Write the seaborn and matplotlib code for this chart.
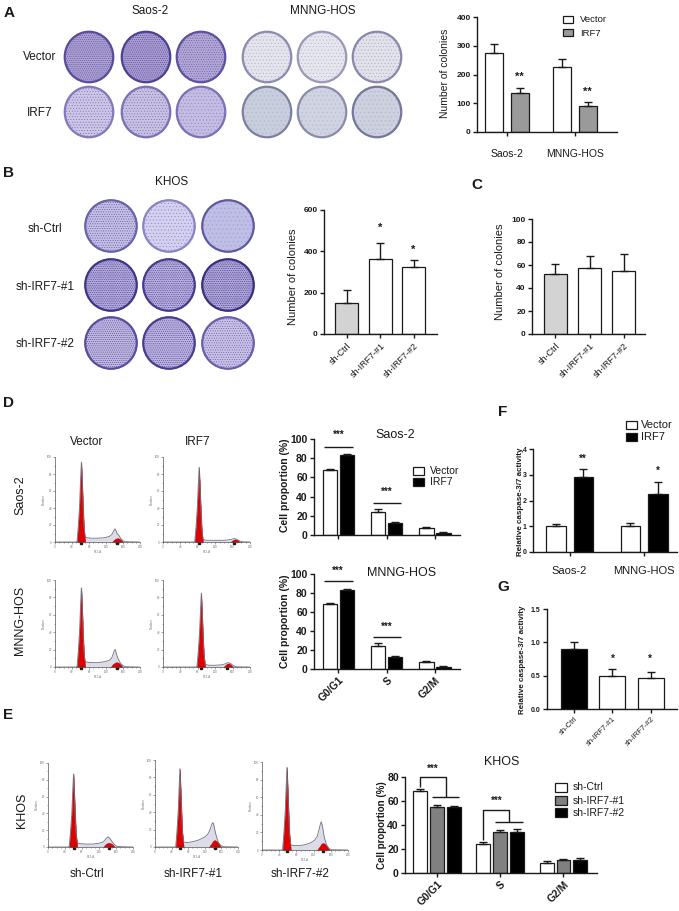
import numpy as np
import pandas as pd
import matplotlib
matplotlib.use('Agg')
import matplotlib.pyplot as plt
import seaborn as sns
from matplotlib.patches import Ellipse, Rectangle

# ---------------- DATA ----------------
# Panel A colony counts
a_groups = ['Saos-2', 'MNNG-HOS']
a_vector = [275, 225]
a_vector_err = [32, 30]
a_irf7 = [135, 90]
a_irf7_err = [19, 15]

# Panel B (KHOS colonies)
b_cats = ['sh-Ctrl', 'sh-IRF7-#1', 'sh-IRF7-#2']
b_vals = [148, 365, 325]
b_err = [67, 77, 32]

# Panel C
c_cats = ['sh-Ctrl', 'sh-IRF7-#1', 'sh-IRF7-#2']
c_vals = [52.5, 57.5, 55]
c_err = [8.8, 10.7, 15]

# Panel D cell cycle
phases = ['G0/G1', 'S', 'G2/M']
d_saos_vector = [68, 24, 7]
d_saos_vector_err = [1.0, 3.0, 1.5]
d_saos_irf7 = [83.5, 13, 2.5]
d_saos_irf7_err = [0.7, 1.0, 0.5]
d_mnng_vector = [68, 24.5, 7]
d_mnng_vector_err = [1.0, 3.0, 1.5]
d_mnng_irf7 = [83.5, 13, 2.5]
d_mnng_irf7_err = [0.7, 1.0, 0.5]

# Panel E (KHOS cell cycle)
e_ctrl = [68, 24, 8]
e_ctrl_err = [2.0, 1.5, 2.0]
e_sh1 = [55, 34, 11]
e_sh1_err = [1.5, 2.0, 0.5]
e_sh2 = [55, 34.5, 10.5]
e_sh2_err = [0.5, 2.0, 2.0]

# Panel F caspase
f_groups = ['Saos-2', 'MNNG-HOS']
f_vector = [1.0, 1.0]
f_vector_err = [0.10, 0.12]
f_irf7 = [2.9, 2.25]
f_irf7_err = [0.32, 0.47]

# Panel G caspase
g_cats = ['sh-Ctrl', 'sh-IRF7-#1', 'sh-IRF7-#2']
g_vals = [0.9, 0.49, 0.47]
g_err = [0.10, 0.11, 0.085]

# Flow cytometry histograms (channel, count)
sv_g1_x = [52, 55, 58, 60, 62, 64, 66, 68, 71]
sv_g1_y = [0, 20, 45, 72, 94, 70, 42, 18, 0]
sv_g2_x = [134, 139, 143, 147, 151, 155, 160]
sv_g2_y = [0, 2.5, 4, 4.5, 4, 2.5, 0]
sv_tot_x = [0, 50, 52, 55, 58, 60, 62, 64, 66, 68, 71, 76, 85, 100, 115, 128, 134, 138, 141, 143, 146, 150, 155, 160, 166, 200]
sv_tot_y = [0, 0, 1, 20, 45, 72, 94, 70, 42, 18, 6, 5, 4.5, 4.5, 5, 6.5, 9, 13, 15.5, 14, 10, 8, 4, 1.5, 0.3, 0]

si_g1_x = [73, 76, 79, 81, 83, 85, 87, 89, 92]
si_g1_y = [0, 18, 42, 66, 88, 64, 38, 16, 0]
si_g2_x = [155, 160, 164, 168, 172, 177]
si_g2_y = [0, 2, 3, 3, 2, 0]
si_tot_x = [0, 71, 73, 76, 79, 81, 83, 85, 87, 89, 92, 100, 120, 140, 150, 156, 160, 164, 168, 172, 177, 185, 200]
si_tot_y = [0, 0, 1, 18, 42, 66, 88, 64, 38, 16, 3, 2, 2, 2, 2.5, 3, 3.5, 4, 3.5, 2.5, 1, 0.2, 0]

mv_g1_x = [52, 55, 58, 60, 62, 64, 66, 68, 71]
mv_g1_y = [0, 19, 44, 70, 91, 68, 40, 17, 0]
mv_g2_x = [131, 136, 141, 145, 149, 154, 159]
mv_g2_y = [0, 3, 5, 5.5, 5, 3, 0]
mv_tot_x = [0, 50, 52, 55, 58, 60, 62, 64, 66, 68, 71, 76, 85, 100, 115, 127, 133, 137, 140, 142, 145, 149, 154, 160, 166, 200]
mv_tot_y = [0, 0, 1, 19, 44, 70, 91, 68, 40, 17, 6, 5.5, 5, 5, 6, 7.5, 10, 15, 19.5, 20, 14, 9, 4.5, 1.5, 0.3, 0]

mi_g1_x = [78, 81, 84, 86, 88, 90, 92, 94, 97]
mi_g1_y = [0, 17, 40, 63, 85, 61, 36, 15, 0]
mi_g2_x = [139, 144, 148, 152, 156, 161]
mi_g2_y = [0, 2.5, 4, 4, 2.5, 0]
mi_tot_x = [0, 76, 78, 81, 84, 86, 88, 90, 92, 94, 97, 105, 120, 135, 142, 146, 150, 154, 158, 163, 170, 200]
mi_tot_y = [0, 0, 1, 17, 40, 63, 85, 61, 36, 15, 3, 2, 2, 2.5, 3.5, 4.5, 5, 4.5, 3, 1.2, 0.2, 0]

ec_g1_x = [50, 53, 56, 58, 60, 62, 64, 66, 69]
ec_g1_y = [0, 18, 40, 65, 87, 63, 37, 16, 0]
ec_g2_x = [130, 135, 139, 143, 147, 152, 157]
ec_g2_y = [0, 3, 4.5, 5, 4.5, 3, 0]
ec_tot_x = [0, 48, 50, 53, 56, 58, 60, 62, 64, 66, 69, 75, 90, 105, 120, 130, 135, 139, 142, 146, 150, 156, 163, 200]
ec_tot_y = [0, 0, 1, 18, 40, 65, 87, 63, 37, 16, 5, 4, 3.5, 3.5, 4.5, 6, 9, 11.5, 12, 10, 7, 3, 0.5, 0]

e1_g1_x = [50, 53, 56, 58, 60, 62, 64, 66, 69]
e1_g1_y = [0, 19, 42, 67, 90, 65, 39, 17, 0]
e1_g2_x = [130, 136, 140, 144, 148, 153, 159]
e1_g2_y = [0, 4, 7, 8, 7, 4, 0]
e1_tot_x = [0, 48, 50, 53, 56, 58, 60, 62, 64, 66, 69, 75, 90, 105, 118, 126, 132, 136, 139, 141, 144, 148, 153, 159, 166, 200]
e1_tot_y = [0, 0, 1, 19, 42, 67, 90, 65, 39, 17, 6, 5, 6, 8, 11, 14, 19, 25, 28, 27, 20, 12, 5, 1.5, 0.3, 0]

e2_g1_x = [48, 51, 54, 56, 58, 60, 62, 64, 67]
e2_g1_y = [0, 20, 44, 70, 94, 68, 41, 18, 0]
e2_g2_x = [128, 134, 138, 142, 146, 151, 157]
e2_g2_y = [0, 4, 7, 8, 7, 4, 0]
e2_tot_x = [0, 46, 48, 51, 54, 56, 58, 60, 62, 64, 67, 73, 85, 100, 112, 122, 128, 132, 136, 138, 141, 145, 150, 156, 163, 200]
e2_tot_y = [0, 0, 1, 20, 44, 70, 94, 68, 41, 18, 6, 5, 5, 6, 8, 11, 15, 22, 30, 32, 26, 14, 6, 1.5, 0.3, 0]

# ---------------- SETUP ----------------
sns.set_theme(style='ticks')
plt.rcParams['font.family'] = ['Liberation Sans', 'DejaVu Sans']
plt.rcParams['hatch.linewidth'] = 0.35

W, H = 679, 911
fig = plt.figure(figsize=(W / 100, H / 100), dpi=100)
fig.patch.set_facecolor('white')


def AX(x0, y0, x1, y1):
    ax = fig.add_axes([x0 / W, 1 - y1 / H, (x1 - x0) / W, (y1 - y0) / H])
    ax.patch.set_alpha(0)
    return ax


ov = fig.add_axes([0, 0, 1, 1])
ov.set_xlim(0, W)
ov.set_ylim(H, 0)
ov.axis('off')
ov.set_zorder(10)
ov.patch.set_alpha(0)


def T(x, y, s, size=8, weight='normal', rot=0, ha='center', va='center', color='k'):
    ov.text(x, y, s, fontsize=size, fontweight=weight, rotation=rot, ha=ha, va=va, color=color)


def L(xs, ys, lw=1.0):
    ov.plot(xs, ys, color='k', lw=lw, solid_capstyle='butt')


def box(x, y, w, h, fc):
    ov.add_patch(Rectangle((x, y), w, h, facecolor=fc, edgecolor='k', lw=0.9))


def plate(cx, cy, face, speck, rim, hatch, w=50, h=52):
    ov.add_patch(Ellipse((cx, cy), w, h, facecolor=face, edgecolor='none', lw=0))
    ov.add_patch(Ellipse((cx, cy), w - 3, h - 3, facecolor='none', edgecolor=speck,
                         hatch=hatch, lw=0))
    ov.add_patch(Ellipse((cx, cy), w - 1.5, h - 1.5, facecolor='none', edgecolor=rim, lw=1.6))


def style(ax, ylim, yticks, tsize, bold=True):
    ax.set_ylim(*ylim)
    ax.set_yticks(yticks)
    sns.despine(ax=ax)
    for s in ['left', 'bottom']:
        ax.spines[s].set_linewidth(1.0)
        ax.spines[s].set_color('k')
    ax.tick_params(axis='both', direction='out', length=3, width=1.0, color='k',
                   labelsize=tsize, pad=1.5, labelcolor='k')
    for lab in ax.get_yticklabels():
        lab.set_fontweight('bold' if bold else 'normal')
    ax.set_xlabel('')
    ax.set_ylabel('')


def errs(ax, err_lists):
    for cont, ev in zip(ax.containers, err_lists):
        xs = [p.get_x() + p.get_width() / 2 for p in cont]
        ys = [p.get_height() for p in cont]
        ax.errorbar(xs, ys, yerr=[np.zeros(len(ev)), ev], fmt='none', ecolor='k',
                    elinewidth=1.0, capsize=3, capthick=1.0, zorder=3)


def hue_bars(ax, cats, levels, vals_list, colors, width, gap):
    df = pd.DataFrame({'cat': [c for _ in levels for c in cats],
                       'grp': [lv for lv in levels for _ in cats],
                       'val': [v for vals in vals_list for v in vals]})
    sns.barplot(data=df, x='cat', y='val', hue='grp', order=cats, hue_order=levels,
                palette=dict(zip(levels, colors)), width=width, gap=gap, edgecolor='k',
                linewidth=0.9, errorbar=None, legend=False, saturation=1, ax=ax)


def single_bars(ax, cats, vals, colors, width):
    df = pd.DataFrame({'cat': cats, 'val': vals})
    sns.barplot(data=df, x='cat', y='val', hue='cat', order=cats, hue_order=cats,
                palette=dict(zip(cats, colors)), width=width, edgecolor='k', linewidth=0.9,
                errorbar=None, legend=False, saturation=1, ax=ax)


def hist(ax, tx, ty, g1x, g1y, g2x, g2y):
    ax.fill_between(tx, ty, color='#dcdce8', lw=0)
    sns.lineplot(x=tx, y=ty, ax=ax, color='#70707e', lw=0.6, sort=False, estimator=None)
    ax.fill_between(g1x, g1y, facecolor='#e00000', edgecolor='#9a0000', lw=0.3)
    ax.fill_between(g2x, g2y, facecolor='#e00000', edgecolor='#9a0000', lw=0.3)
    c1 = g1x[int(np.argmax(g1y))]
    c2 = g2x[int(np.argmax(g2y))]
    ax.plot([c1, c2], [-1.5, -1.5], ls='none', marker='s', ms=1.6, color='k', clip_on=False)
    ax.set_xlim(0, 200)
    ax.set_ylim(0, 100)
    ax.set_xticks(np.arange(0, 201, 40))
    ax.set_xticks(np.arange(0, 201, 10), minor=True)
    ax.set_yticks(np.arange(0, 101, 20))
    ax.set_yticks(np.arange(0, 101, 10), minor=True)
    sns.despine(ax=ax)
    for s in ['left', 'bottom']:
        ax.spines[s].set_linewidth(0.5)
        ax.spines[s].set_color('#555555')
    ax.tick_params(which='both', direction='out', length=1.5, width=0.4, color='#555555',
                   labelsize=2.2, pad=0.8, labelcolor='#777777')
    ax.tick_params(which='minor', length=1.0)
    ax.set_xlabel('FL2-A', fontsize=2.2, labelpad=0.5, color='#777777')
    ax.set_ylabel('Number', fontsize=2.2, labelpad=0.5, color='#777777')


# ---------------- PANEL A ----------------
T(9, 13, 'A', 11, 'bold')
T(150, 11, 'Saos-2', 8.5)
T(323, 11, 'MNNG-HOS', 8.5)
T(40, 57, 'Vector', 8.5)
T(40, 113, 'IRF7', 8.5)
colsA_s = [89, 146, 201]
colsA_m = [267, 322, 377]
rowsA = [57, 112]
sv_style = [('#ab9fd2', '#5a4a9c', '#5a4b9c', '........'), ('#a89bd0', '#55469a', '#4f4192', '........'),
            ('#b2a7d6', '#65579f', '#5e50a0', '.......')]
si_style = [('#cdc6e6', '#7a6db4', '#8578b8', '......'), ('#c9c1e4', '#7a6db4', '#7d70b4', '......'),
            ('#c4bce2', '#958bc6', '#7d70b4', '.....')]
mv_style = [('#e4e4ec', '#b4b0cc', '#8d8aae', '.....'), ('#e6e6ee', '#b8b5cd', '#9a98b8', '.....'),
            ('#e2e2eb', '#aeaac8', '#8a87ab', '.....')]
mi_style = [('#c9cede', '#b0b4ca', '#7c7f9e', '....'), ('#cfd3e2', '#b6b9cd', '#8a8daa', '....'),
            ('#ccd0df', '#b0b4ca', '#74779a', '....')]
for cx, st in zip(colsA_s, sv_style):
    plate(cx, rowsA[0], *st)
for cx, st in zip(colsA_s, si_style):
    plate(cx, rowsA[1], *st)
for cx, st in zip(colsA_m, mv_style):
    plate(cx, rowsA[0], *st)
for cx, st in zip(colsA_m, mi_style):
    plate(cx, rowsA[1], *st)

axA = AX(477, 17, 617, 132)
hue_bars(axA, a_groups, ['Vector', 'IRF7'], [a_vector, a_irf7], ['white', '#9a9a9a'], 0.75, 0.3)
errs(axA, [a_vector_err, a_irf7_err])
axA.set_xlim(-0.44, 1.62)
style(axA, (0, 400), [0, 100, 200, 300, 400], 6)
axA.tick_params(axis='x', pad=9, labelsize=7.5)
T(445, 73, 'Number of colonies', 7.5, rot=90)
T(519, 77, '**', 8, 'bold')
T(587, 92, '**', 8, 'bold')
box(563, 16, 10, 7, 'white')
box(563, 29, 10, 7, '#9a9a9a')
T(580, 20, 'Vector', 6.8, ha='left')
T(580, 33, 'IRF7', 6.8, ha='left')

# ---------------- PANEL B ----------------
T(8, 173, 'B', 11, 'bold')
T(172, 182, 'KHOS', 8.5)
T(45, 229, 'sh-Ctrl', 8.5)
T(45, 287, 'sh-IRF7-#1', 8.5)
T(45, 344, 'sh-IRF7-#2', 8.5)
colsB = [111, 169, 228]
rowsB = [226, 285, 343]
kb_style = [
    [('#c4bfe6', '#5e539f', '#6a62a8', '.......'), ('#d4d1f0', '#8f87c4', '#8a84c2', '.....'),
     ('#bfbee7', '#a29ed0', '#5f5aa0', '....')],
    [('#b3a9dc', '#43378a', '#3f3585', '.........'), ('#b8aede', '#43378a', '#463a8a', '.........'),
     ('#b0a6da', '#3c3182', '#3a2f7e', '.........')],
    [('#c0b7e1', '#4e4290', '#5a4e9c', '........'), ('#bbb1df', '#4e4290', '#4a3e8c', '........'),
     ('#c9c1e6', '#6357a4', '#6a60aa', '.......')],
]
for cy, row in zip(rowsB, kb_style):
    for cx, st in zip(colsB, row):
        plate(cx, cy, *st, w=53, h=53)

axB = AX(324, 210, 437, 334)
single_bars(axB, b_cats, b_vals, ['#d3d3d3', 'white', 'white'], 0.69)
errs(axB, [[e] for e in b_err])
axB.set_xlim(-0.67, 2.69)
style(axB, (0, 600), [0, 200, 400, 600], 6)
axB.set_xticks(range(3))
axB.set_xticklabels(b_cats, rotation=45, ha='right', rotation_mode='anchor', fontsize=6.5)
axB.tick_params(axis='x', pad=2)
T(293, 277, 'Number of colonies', 8, rot=90)
T(380, 228, '*', 8, 'bold')
T(413, 250, '*', 8, 'bold')

# ---------------- PANEL C ----------------
T(477, 185, 'C', 11, 'bold')
axC = AX(532, 219, 645, 334)
single_bars(axC, c_cats, c_vals, ['#d3d3d3', 'white', 'white'], 0.68)
errs(axC, [[e] for e in c_err])
axC.set_xlim(-0.69, 2.63)
style(axC, (0, 100), [0, 20, 40, 60, 80, 100], 6)
axC.set_xticks(range(3))
axC.set_xticklabels(c_cats, rotation=45, ha='right', rotation_mode='anchor', fontsize=6.5)
axC.tick_params(axis='x', pad=2)
T(500, 272, 'Number of colonies', 8, rot=90)

# ---------------- PANEL D ----------------
T(8, 403, 'D', 11, 'bold')
T(87, 442, 'Vector', 8.5)
T(198, 442, 'IRF7', 8.5)
T(20, 495, 'Saos-2', 9, rot=90)
T(20, 620, 'MNNG-HOS', 9, rot=90)
hist(AX(55, 457, 140, 542), sv_tot_x, sv_tot_y, sv_g1_x, sv_g1_y, sv_g2_x, sv_g2_y)
hist(AX(163, 457, 250, 542), si_tot_x, si_tot_y, si_g1_x, si_g1_y, si_g2_x, si_g2_y)
hist(AX(55, 580, 140, 667), mv_tot_x, mv_tot_y, mv_g1_x, mv_g1_y, mv_g2_x, mv_g2_y)
hist(AX(163, 580, 250, 667), mi_tot_x, mi_tot_y, mi_g1_x, mi_g1_y, mi_g2_x, mi_g2_y)

for (y0, y1, vec, vec_e, irf, irf_e, show) in [
        (439, 535, d_saos_vector, d_saos_vector_err, d_saos_irf7, d_saos_irf7_err, False),
        (574, 669, d_mnng_vector, d_mnng_vector_err, d_mnng_irf7, d_mnng_irf7_err, True)]:
    ax = AX(314, y0, 460, y1)
    hue_bars(ax, phases, ['Vector', 'IRF7'], [vec, irf], ['white', 'black'], 0.70, 0.15)
    errs(ax, [vec_e, irf_e])
    ax.set_xlim(-0.505, 2.52)
    style(ax, (0, 100), [0, 20, 40, 60, 80, 100], 7.5)
    ax.set_xticks(range(3))
    if show:
        ax.set_xticklabels(phases, rotation=45, ha='right', rotation_mode='anchor',
                           fontsize=7.5, fontweight='bold')
    else:
        ax.set_xticklabels([])

T(285, 485, 'Cell proportion (%)', 7.5, 'bold', rot=90)
T(285, 621, 'Cell proportion (%)', 7.5, 'bold', rot=90)
T(395, 435, 'Saos-2', 9)
T(402, 573, 'MNNG-HOS', 9)
T(339, 435, '***', 7, 'bold')
L([324, 353], [447, 447])
T(387, 492, '***', 7, 'bold')
L([373, 401], [503, 503])
T(338, 571, '***', 7, 'bold')
L([324, 353], [581, 581])
T(387, 627, '***', 7, 'bold')
L([373, 401], [637, 637])
box(413, 467, 11, 8, 'white')
box(413, 478, 11, 8, 'black')
T(430, 471, 'Vector', 7.5, ha='left')
T(430, 482, 'IRF7', 7.5, ha='left')

# ---------------- PANEL F ----------------
T(503, 412, 'F', 11, 'bold')
axF = AX(533, 449, 677, 552)
hue_bars(axF, f_groups, ['Vector', 'IRF7'], [f_vector, f_irf7], ['white', 'black'], 0.74, 0.29)
errs(axF, [f_vector_err, f_irf7_err])
axF.set_xlim(-0.49, 1.44)
style(axF, (0, 4), [0, 1, 2, 3, 4], 5)
axF.tick_params(axis='x', pad=7, labelsize=8)
T(520, 502, 'Relative caspase-3/7 activity', 5.8, 'bold', rot=90)
T(583, 459, '**', 7, 'bold')
T(658, 471, '*', 7, 'bold')
box(626, 421, 11, 8, 'white')
box(626, 433, 11, 8, 'black')
T(641, 425, 'Vector', 8, ha='left')
T(641, 437, 'IRF7', 8, ha='left')

# ---------------- PANEL G ----------------
T(503, 587, 'G', 11, 'bold')
axG = AX(547, 609, 677, 709)
single_bars(axG, g_cats, g_vals, ['black', 'white', 'white'], 0.675)
errs(axG, [[e] for e in g_err])
axG.set_xlim(-0.70, 2.68)
style(axG, (0, 1.5), [0, 0.5, 1.0, 1.5], 5)
axG.set_yticklabels(['0.0', '0.5', '1.0', '1.5'], fontweight='bold')
axG.set_xticks(range(3))
axG.set_xticklabels(g_cats, rotation=45, ha='right', rotation_mode='anchor', fontsize=5.5)
axG.tick_params(axis='x', pad=1.5)
T(523, 660, 'Relative caspase-3/7 activity', 5.8, 'bold', rot=90)
T(613, 659, '*', 7, 'bold')
T(650, 659, '*', 7, 'bold')

# ---------------- PANEL E ----------------
T(8, 715, 'E', 11, 'bold')
T(22, 810, 'KHOS', 9, rot=90)
hist(AX(48, 763, 133, 847), ec_tot_x, ec_tot_y, ec_g1_x, ec_g1_y, ec_g2_x, ec_g2_y)
hist(AX(155, 760, 238, 847), e1_tot_x, e1_tot_y, e1_g1_x, e1_g1_y, e1_g2_x, e1_g2_y)
hist(AX(262, 762, 348, 850), e2_tot_x, e2_tot_y, e2_g1_x, e2_g1_y, e2_g2_x, e2_g2_y)
T(87, 874, 'sh-Ctrl', 8.5)
T(193, 874, 'sh-IRF7-#1', 8.5)
T(300, 874, 'sh-IRF7-#2', 8.5)

axE = AX(405, 777, 597, 873)
e_levels = ['sh-Ctrl', 'sh-IRF7-#1', 'sh-IRF7-#2']
hue_bars(axE, phases, e_levels, [e_ctrl, e_sh1, e_sh2], ['white', '#808080', 'black'], 0.8, 0.18)
errs(axE, [e_ctrl_err, e_sh1_err, e_sh2_err])
axE.set_xlim(-0.505, 2.53)
style(axE, (0, 80), [0, 20, 40, 60, 80], 7.5)
axE.set_xticks(range(3))
axE.set_xticklabels(phases, rotation=45, ha='right', rotation_mode='anchor', fontsize=7.5,
                    fontweight='bold')
T(382, 825, 'Cell proportion (%)', 7, 'bold', rot=90)
T(502, 762, 'KHOS', 9)
T(433, 769, '***', 7, 'bold')
L([420, 420, 446, 446], [787, 777, 777, 797])
L([432, 459], [797, 797])
T(497, 801, '***', 7, 'bold')
L([483, 483, 509, 509], [840, 810, 810, 822])
L([495, 523], [822, 822])
for yy, fc, lab in zip([783, 796, 808], ['white', '#808080', 'black'], e_levels):
    box(555, yy, 12, 9, fc)
    T(573, yy + 4.5, lab, 7.5, ha='left')

fig.savefig('out.png', dpi=100, facecolor='white')
